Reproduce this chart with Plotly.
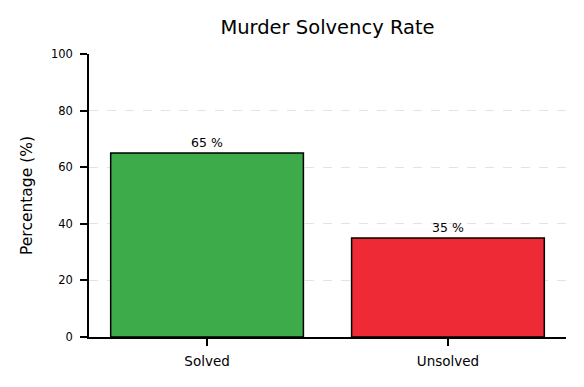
import plotly.graph_objects as go

categories = ["Solved", "Unsolved"]
values = [65, 35]
labels = ["65 %", "35 %"]
colors = ["#3DAB4A", "#EE2A36"]
yticks = [0, 20, 40, 60, 80, 100]

FONT = "DejaVu Sans"

fig = go.Figure()
fig.add_trace(go.Bar(
    x=categories, y=values,
    marker=dict(color=colors, line=dict(color="black", width=1.5)),
    width=0.8,
    text=labels, textposition="outside",
    textfont=dict(size=12.5, color="black", family=FONT),
    cliponaxis=False,
))
fig.update_layout(
    width=584, height=387,
    margin=dict(l=89, r=18, t=54, b=50),
    paper_bgcolor="white", plot_bgcolor="white",
    font=dict(family=FONT, color="black", size=12),
    title=dict(text="Murder Solvency Rate", x=(89 + 566) / 2 / 584, xanchor="center",
               y=1 - 27 / 387, yanchor="middle",
               font=dict(size=19.5, family=FONT, color="black")),
    showlegend=False,
)
fig.update_xaxes(
    range=[-0.49, 1.49],
    showline=True, linecolor="black", linewidth=1.5,
    ticks="outside", ticklen=7, tickwidth=1.5, tickcolor="black",
    showgrid=False, tickfont=dict(size=13.5),
    ticklabelstandoff=4,
)
fig.update_yaxes(
    range=[0, 100], tickvals=yticks,
    showline=True, linecolor="black", linewidth=1.5,
    ticks="outside", ticklen=7, tickwidth=1.5, tickcolor="black",
    showgrid=True, gridcolor="#E3E3E3", griddash="dash", gridwidth=1,
    zeroline=False,
    title=dict(text="Percentage (%)", font=dict(size=15.5), standoff=15),
    tickfont=dict(size=11.5),
    ticklabelstandoff=5,
)
fig.write_html("out.html")
